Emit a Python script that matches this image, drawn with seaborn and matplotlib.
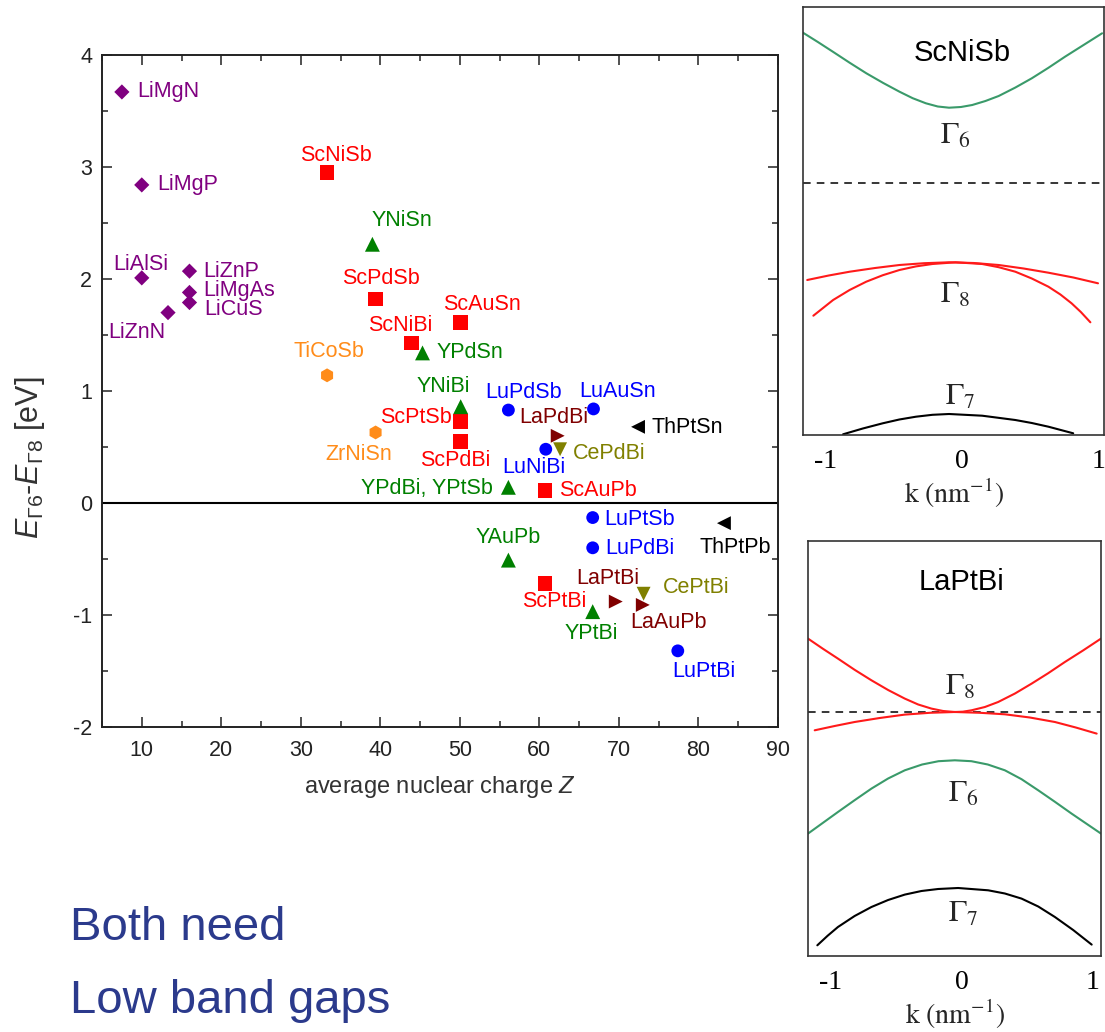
import numpy as np
import pandas as pd
import matplotlib
matplotlib.use("Agg")
import matplotlib.pyplot as plt
import seaborn as sns
from matplotlib.ticker import MultipleLocator

# ---------------- data: main scatter ----------------
compounds = ["LiMgN", "LiMgP", "LiAlSi", "LiZnP", "LiMgAs", "LiCuS", "LiZnN",
             "ScNiSb", "ScPdSb", "ScAuSn", "ScNiBi", "ScPtSb", "ScPdBi", "ScAuPb", "ScPtBi",
             "YNiSn", "YPdSn", "YNiBi", "YPdBi, YPtSb", "YAuPb", "YPtBi",
             "TiCoSb", "ZrNiSn",
             "LuPdSb", "LuAuSn", "LuNiBi", "LuPtSb", "LuPdBi", "LuPtBi",
             "LaPdBi", "LaPtBi", "LaAuPb",
             "CePdBi", "CePtBi",
             "ThPtSn", "ThPtPb"]
groups = ["Li"] * 7 + ["Sc"] * 8 + ["Y"] * 6 + ["TiZr"] * 2 + ["Lu"] * 6 + ["La"] * 3 + ["Ce"] * 2 + ["Th"] * 2
z_values = [7.5, 10.0, 10.0, 16.0, 16.0, 16.0, 13.3,
            33.3, 39.4, 50.1, 43.9, 50.1, 50.1, 60.7, 60.7,
            39.0, 45.3, 50.1, 56.1, 56.1, 66.7,
            33.3, 39.4,
            56.1, 66.8, 60.8, 66.7, 66.7, 77.4,
            62.3, 69.6, 73.0,
            62.6, 73.1,
            72.4, 83.2]
gaps = [3.67, 2.84, 2.01, 2.07, 1.88, 1.79, 1.70,
        2.95, 1.82, 1.61, 1.43, 0.73, 0.55, 0.11, -0.72,
        2.31, 1.34, 0.86, 0.14, -0.51, -0.97,
        1.14, 0.63,
        0.83, 0.84, 0.48, -0.13, -0.40, -1.32,
        0.60, -0.88, -0.91,
        0.48, -0.81,
        0.68, -0.18]

# label placement (pixel offsets from marker, +dy = downward) and alignment
label_dx = [15, 15, -29, 14, 14, 15, -60,
            9, 5, 21, -11, -9, -5, 14, 9,
            -1, 14, -17, -16, 0, -1,
            2, -17,
            15, 24, -12, 12, 13, 26,
            -4, -8, 26,
            13, 19,
            13, 11]
label_dy = [0, 0, -13, 0, -2, 7, 20,
            -17, -21, -18, -17, -4, 19, 0, 18,
            -24, 0, -20, 1, -23, 22,
            -24, 22,
            -18, -17, 18, 2, 1, 21,
            -18, -23, 18,
            4, -6,
            1, 24]
label_ha = ["left", "left", "left", "left", "left", "left", "left",
            "center", "center", "center", "center", "right", "center", "left", "center",
            "left", "left", "center", "right", "center", "center",
            "center", "center",
            "center", "center", "center", "left", "left", "center",
            "center", "center", "center",
            "left", "left",
            "left", "center"]

group_order = ["Li", "Sc", "Y", "TiZr", "Lu", "La", "Ce", "Th"]
group_colors = {"Li": "#800080", "Sc": "#FF0000", "Y": "#008000", "TiZr": "#FF8C1A",
                "Lu": "#0000FF", "La": "#800000", "Ce": "#808000", "Th": "#000000"}
group_markers = {"Li": "D", "Sc": "s", "Y": "^", "TiZr": "h",
                 "Lu": "o", "La": ">", "Ce": "v", "Th": "<"}
group_sizes = {"Li": 60, "Sc": 110, "Y": 115, "TiZr": 100,
               "Lu": 85, "La": 100, "Ce": 100, "Th": 100}

# ---------------- data: band-structure panels ----------------
# ScNiSb panel
sc_g6_k = [-1.169, -1.060, -0.950, -0.827, -0.704, -0.580, -0.461, -0.364, -0.267,
           -0.180, -0.097, -0.010, 0.073, 0.170, 0.267, 0.390, 0.510, 0.632, 0.754, 0.890, 1.026]
sc_g6_e = [1.503, 1.410, 1.313, 1.203, 1.097, 1.000, 0.913, 0.848, 0.797,
           0.765, 0.753, 0.760, 0.780, 0.820, 0.870, 0.955, 1.047, 1.152, 1.263, 1.380, 1.497]
sc_g8a_k = [-1.138, -0.980, -0.826, -0.640, -0.461, -0.280, -0.097, 0.085, 0.267, 0.450, 0.632, 0.815, 0.996]
sc_g8a_e = [-0.970, -0.925, -0.887, -0.850, -0.820, -0.802, -0.793, -0.800, -0.820, -0.855, -0.897, -0.945, -1.003]
sc_g8b_k = [-1.093, -0.948, -0.827, -0.705, -0.583, -0.461, -0.340, -0.219, -0.049,
            0.146, 0.267, 0.389, 0.510, 0.632, 0.720, 0.802, 0.870, 0.940]
sc_g8b_e = [-1.327, -1.170, -1.070, -0.987, -0.922, -0.870, -0.834, -0.810, -0.793,
            -0.810, -0.842, -0.887, -0.955, -1.037, -1.115, -1.203, -1.290, -1.393]
sc_g7_k = [-0.875, -0.730, -0.584, -0.462, -0.340, -0.219, -0.097, 0.146, 0.389, 0.510, 0.632, 0.814]
sc_g7_e = [-2.513, -2.455, -2.403, -2.365, -2.337, -2.318, -2.310, -2.327, -2.370, -2.400, -2.437, -2.503]

# LaPtBi panel
la_g8a_k = [-1.169, -1.055, -0.941, -0.814, -0.686, -0.559, -0.432, -0.330, -0.229, -0.140,
            -0.051, 0.010, 0.076, 0.178, 0.279, 0.407, 0.534, 0.660, 0.787, 0.925, 1.062]
la_g8a_e = [0.734, 0.632, 0.534, 0.422, 0.317, 0.220, 0.134, 0.075, 0.034, 0.010,
            0.0, 0.003, 0.017, 0.050, 0.100, 0.185, 0.284, 0.388, 0.500, 0.615, 0.734]
la_g8b_k = [-1.118, -0.966, -0.814, -0.623, -0.432, -0.241, -0.051, 0.140, 0.330, 0.520, 0.711, 0.870, 1.029]
la_g8b_e = [-0.183, -0.140, -0.100, -0.060, -0.026, -0.008, 0.0, -0.008, -0.023, -0.055, -0.100, -0.155, -0.216]
la_g6_k = [-1.169, -1.055, -0.941, -0.814, -0.686, -0.559, -0.432, -0.300, -0.175, -0.051,
           0.075, 0.200, 0.330, 0.457, 0.584, 0.711, 0.838, 0.950, 1.062]
la_g6_e = [-1.216, -1.108, -1.000, -0.882, -0.766, -0.665, -0.583, -0.525, -0.492, -0.483,
           -0.492, -0.525, -0.583, -0.672, -0.783, -0.898, -1.016, -1.116, -1.216]
la_g7_k = [-1.098, -1.020, -0.941, -0.814, -0.686, -0.559, -0.432, -0.305, -0.178, -0.026,
           0.203, 0.330, 0.457, 0.584, 0.711, 0.850, 0.991]
la_g7_e = [-2.333, -2.238, -2.150, -2.040, -1.950, -1.880, -1.826, -1.790, -1.770, -1.760,
           -1.783, -1.815, -1.866, -1.945, -2.050, -2.180, -2.326]

k_ticks = [-1, 0, 1]
k_ticklabels = ["-1", "0", "1"]

# ---------------- style ----------------
sns.set_theme(style="ticks")
plt.rcParams["font.family"] = ["Liberation Sans", "DejaVu Sans"]
plt.rcParams["axes.unicode_minus"] = False
plt.rcParams["mathtext.fontset"] = "custom"
plt.rcParams["mathtext.rm"] = "Liberation Sans"
plt.rcParams["mathtext.it"] = "Liberation Sans:italic"
plt.rcParams["mathtext.bf"] = "Liberation Sans:bold"

W, H = 1105, 1032
fig = plt.figure(figsize=(W / 100, H / 100), dpi=100)


def rect(l, t, r, b):
    return [l / W, 1 - b / H, (r - l) / W, (b - t) / H]


# ---------------- main scatter axes ----------------
ax = fig.add_axes(rect(102, 55, 778, 727))
df = pd.DataFrame({"name": compounds, "group": groups, "Z": z_values, "gap": gaps,
                   "dx": label_dx, "dy": label_dy, "ha": label_ha})

ax.axhline(0, color="black", lw=1.5, zorder=1)
for g in group_order:
    sub = df[df["group"] == g]
    sns.scatterplot(data=sub, x="Z", y="gap", ax=ax, marker=group_markers[g],
                    color=group_colors[g], s=group_sizes[g], edgecolor="none",
                    linewidth=0, legend=False, zorder=3)

for _, row in df.iterrows():
    ax.annotate(row["name"], (row["Z"], row["gap"]),
                xytext=(row["dx"] * 0.72, -row["dy"] * 0.72), textcoords="offset points",
                ha=row["ha"], va="center", fontsize=15.5, color=group_colors[row["group"]],
                zorder=4)

ax.set_xlim(5, 90)
ax.set_ylim(-2, 4)
ax.xaxis.set_major_locator(MultipleLocator(10))
ax.xaxis.set_minor_locator(MultipleLocator(5))
ax.yaxis.set_major_locator(MultipleLocator(1))
ax.yaxis.set_minor_locator(MultipleLocator(0.5))
ax.set_xticks(range(10, 91, 10))
ax.tick_params(which="both", direction="in", top=True, right=True, colors="#222222",
               labelcolor="#222222", labelsize=15.5)
ax.tick_params(axis="x", which="major", pad=9)
ax.tick_params(axis="y", which="major", pad=7)
ax.tick_params(which="major", length=7, width=1.1)
ax.tick_params(which="minor", length=4, width=1.1)
for sp in ax.spines.values():
    sp.set_linewidth(1.4)
    sp.set_color("#222222")
ax.set_xlabel(r"average nuclear charge $Z$", fontsize=17, color="#333333", va="center")
ax.xaxis.set_label_coords(0.5, -(787 - 727) / 672, transform=ax.transAxes)
ax.set_ylabel(r"$E_{\Gamma6}$-$E_{\Gamma8}$ [eV]", fontsize=22, color="#333333", va="center")
ax.yaxis.set_label_coords(-(102 - 30) / 676, (727 - 458) / 672, transform=ax.transAxes)

# ---------------- text below ----------------
fig.text(70 / W, 1 - 940 / H, "Both need", fontsize=34, color="#2B3A8C", ha="left", va="baseline")
fig.text(70 / W, 1 - 1013 / H, "Low band gaps", fontsize=34, color="#2B3A8C", ha="left", va="baseline")

# ---------------- band-structure panels ----------------
green = "#3A9A6A"
red = "#FF1A1A"


def style_panel(a, xlim, ylim, title, gamma_pos):
    a.axhline(0, color="black", lw=1.1, ls=(0, (5, 4)), zorder=1)
    a.set_xlim(*xlim)
    a.set_ylim(*ylim)
    a.set_yticks([])
    a.set_xticks(k_ticks)
    a.set_xticklabels(k_ticklabels, fontfamily="Liberation Serif", fontsize=20)
    a.tick_params(axis="x", length=0, pad=10, labelcolor="black")
    a.set_xlabel(r"$\mathrm{k\ (nm^{-1})}$", fontsize=20, math_fontfamily="stix", labelpad=2)
    a.set_ylabel("")
    for sp in a.spines.values():
        sp.set_linewidth(1.2)
        sp.set_color("#333333")
    a.text(0, title[1], title[0], ha="center", va="center", fontsize=21, color="black")
    for lab, (kx, ey) in gamma_pos.items():
        a.text(kx, ey, lab, ha="center", va="center", fontsize=22, math_fontfamily="stix")


ax1 = fig.add_axes(rect(803, 7, 1104, 435))
for kk, ee, c in [(sc_g6_k, sc_g6_e, green), (sc_g8a_k, sc_g8a_e, red),
                  (sc_g8b_k, sc_g8b_e, red), (sc_g7_k, sc_g7_e, "black")]:
    sns.lineplot(x=kk, y=ee, ax=ax1, color=c, lw=1.5, estimator=None, sort=False, zorder=2)
style_panel(ax1, (-1.169, 1.04), (-2.52, 1.76), ("ScNiSb", 1.30),
            {r"$\Gamma_6$": (-0.05, 0.47), r"$\Gamma_8$": (-0.05, -1.12), r"$\Gamma_7$": (-0.02, -2.14)})

ax2 = fig.add_axes(rect(808, 541, 1101, 956))
for kk, ee, c in [(la_g8a_k, la_g8a_e, red), (la_g8b_k, la_g8b_e, red),
                  (la_g6_k, la_g6_e, green), (la_g7_k, la_g7_e, "black")]:
    sns.lineplot(x=kk, y=ee, ax=ax2, color=c, lw=1.5, estimator=None, sort=False, zorder=2)
style_panel(ax2, (-1.169, 1.062), (-2.44, 1.71), ("LaPtBi", 1.30),
            {r"$\Gamma_8$": (-0.01, 0.25), r"$\Gamma_6$": (0.01, -0.82), r"$\Gamma_7$": (0.01, -2.02)})

fig.savefig("out.png", dpi=100)
